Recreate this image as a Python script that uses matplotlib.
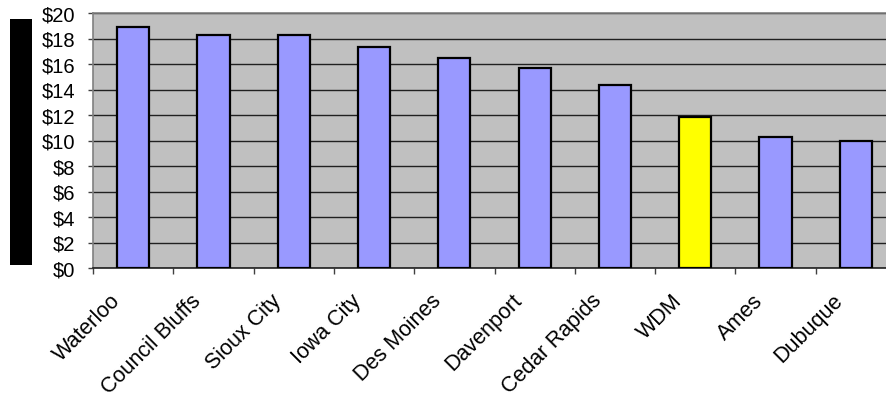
import numpy as np
import matplotlib.pyplot as plt
from matplotlib.patches import Rectangle
from matplotlib.transforms import ScaledTranslation

cities = ["Waterloo", "Council Bluffs", "Sioux City", "Iowa City", "Des Moines",
          "Davenport", "Cedar Rapids", "WDM", "Ames", "Dubuque"]
values = [18.90, 18.30, 18.30, 17.35, 16.45, 15.65, 14.35, 11.85, 10.30, 10.00]
highlight = "WDM"
y_ticks = [0, 2, 4, 6, 8, 10, 12, 14, 16, 18, 20]

plt.rcParams['font.family'] = ['Liberation Sans', 'DejaVu Sans']

W, H = 887, 402
fig = plt.figure(figsize=(W / 100, H / 100), dpi=100)
# plot area runs a little past the right edge of the figure
left, right, top, bottom = 93, 896, 14, 269
ax = fig.add_axes([left / W, 1 - bottom / H, (right - left) / W, (bottom - top) / H])
ax.set_facecolor('#C0C0C0')

x = np.arange(len(cities))
colors = ['#FFFF00' if c == highlight else '#9999FF' for c in cities]
ax.bar(x, values, width=0.4, color=colors, edgecolor='black', linewidth=1.6, zorder=3)

ax.set_xlim(-0.5, len(cities) - 0.5)
ax.set_ylim(0, 20)
ax.set_yticks(y_ticks)
ax.set_yticklabels([f"${v}" for v in y_ticks], fontsize=14.5)
ax.yaxis.grid(True, color='#202020', linewidth=1.0, zorder=1)
ax.tick_params(axis='y', length=3.6, width=1, color='#404040', pad=9)

# tick marks between categories, labels at the centres
ax.set_xticks(x)
ax.set_xticks(np.arange(len(cities) + 1) - 0.5, minor=True)
ax.tick_params(axis='x', which='major', length=0, pad=0)
ax.tick_params(axis='x', which='minor', length=4.3, width=1, color='#404040')
ax.set_xticklabels(cities, fontsize=15.5, rotation=45, ha='right', va='center',
                   rotation_mode='anchor')
offset = ScaledTranslation(-16 / 100, -29 / 100, fig.dpi_scale_trans)
for lbl in ax.get_xticklabels():
    lbl.set_transform(lbl.get_transform() + offset)

for side in ['top', 'left', 'right']:
    ax.spines[side].set_color('#808080')
    ax.spines[side].set_linewidth(1.2)
ax.spines['bottom'].set_color('#202020')
ax.spines['bottom'].set_linewidth(1.2)

# solid black block beside the value axis
fig.patches.append(Rectangle((10 / W, 1 - 266 / H), 22 / W, 246 / H,
                             transform=fig.transFigure, facecolor='black',
                             edgecolor='none'))

fig.savefig('out.png', dpi=100)
